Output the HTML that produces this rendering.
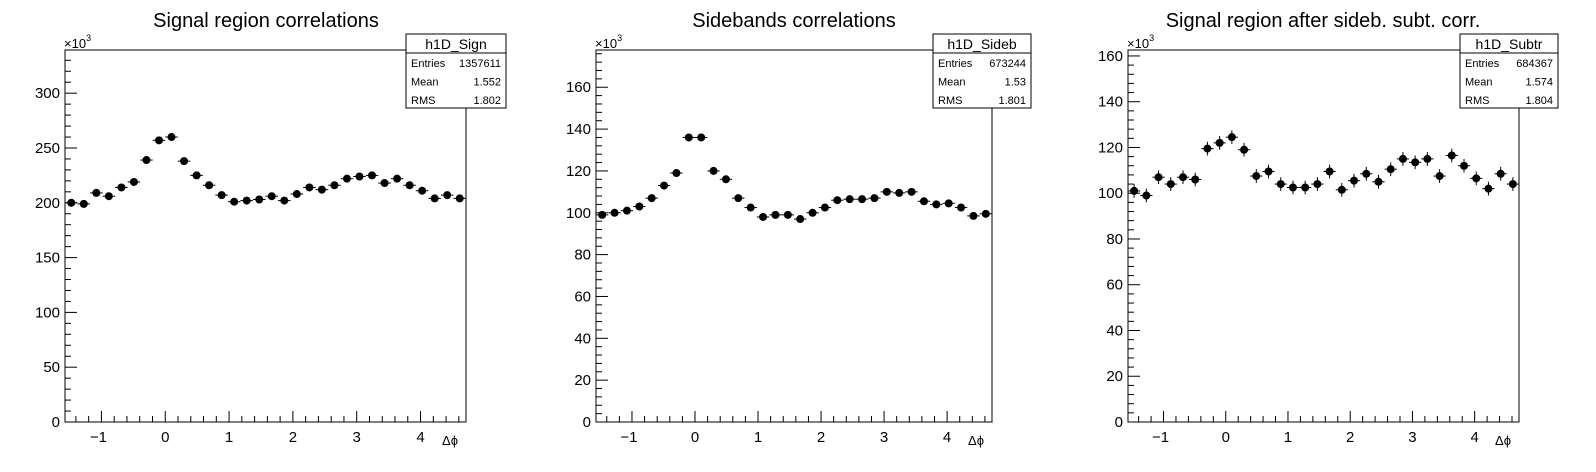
<!DOCTYPE html>
<html><head><meta charset="utf-8"><style>
html,body{margin:0;padding:0;background:#fff;}
svg{display:block;font-family:"Liberation Sans",Arial,sans-serif;}
</style></head><body>
<svg id="c" width="1596" height="472" xmlns="http://www.w3.org/2000/svg"></svg>
<script>
const binCenters = (function(){const a=[];for(let i=0;i<32;i++)a.push(-Math.PI/2+(i+0.5)*(2*Math.PI/32));return a;})();
const signValues = [200,199,209,206,214,219,239,257,260,238,225,216,207,201,202,203,206,202,208,214,212,216,222,224,225,218,222,216,211,204,207,204];
const sidebValues = [99,100,101,103,107,113,119,136,136,120,116,107,102.5,98,99,99,97,100,102.5,106,106.5,106.5,107,110,109.5,110,105.5,104,104.5,102.5,98.5,99.5];
const subtrValues = [101,99,107,104,107,106,119.5,122,124.5,119,107.5,109.5,104,102.5,102.5,104,109.5,101.5,105.5,108.5,105,110.5,115,113.5,115,107.5,116.5,112,106.5,102,108.5,104];
const subtrErrors = [3,3,3,3,3,3,3,3,3,3,3,3,3,3,3,3,3,3,3,3,3,3,3,3,3,3,3,3,3,3,3,3];
const xTicks = [-1,0,1,2,3,4];
const signYTicks = [0,50,100,150,200,250,300];
const sidebYTicks = [0,20,40,60,80,100,120,140,160];
const subtrYTicks = [0,20,40,60,80,100,120,140,160];

const panels = [
 {name:'signal',title:'Signal region correlations',tx:266,L:65,R:466,ymax:339.4,vals:signValues,err:null,yt:signYTicks,minor:10,hname:'h1D_Sign',stats:['1357611','1.552','1.802'],bx:406,bw:100},
 {name:'sidebands',title:'Sidebands correlations',tx:794,L:596,R:992,ymax:177.8,vals:sidebValues,err:null,yt:sidebYTicks,minor:4,hname:'h1D_Sideb',stats:['673244','1.53','1.801'],bx:933,bw:98},
 {name:'subtracted',title:'Signal region after sideb. subt. corr.',tx:1323,L:1128,R:1519,ymax:162.6,vals:subtrValues,err:subtrErrors,yt:subtrYTicks,minor:4,hname:'h1D_Subtr',stats:['684367','1.574','1.804'],bx:1460,bw:98}
];
const svg=document.getElementById('c');
const NS='http://www.w3.org/2000/svg';
function mk(tag,attrs,parent,text){const e=document.createElementNS(NS,tag);for(const k in attrs)e.setAttribute(k,attrs[k]);if(text!==undefined)e.textContent=text;(parent||svg).appendChild(e);return e;}
const T=50,B=422,XMIN=-Math.PI/2,XMAX=3*Math.PI/2;
panels.forEach(p=>{
 const g=mk('g',{},svg);
 
 
 const xs=v=>p.L+(v-XMIN)/(XMAX-XMIN)*(p.R-p.L);
 const ys=v=>B-v/p.ymax*(B-T);
 const t=mk('text',{x:p.tx,y:27,'font-size':20,'text-anchor':'middle'},g,p.title);
 
 
 const fr=mk('rect',{x:p.L,y:T,width:p.R-p.L,height:B-T,fill:'none',stroke:'#000','stroke-width':1},g);
 
 
 const ya=mk('g',{},g);
 
 
 const step=p.yt[1]-p.yt[0];
 for(let v=0;v<=p.ymax+1e-9;v+=p.minor){
  const major=Math.abs(v/step-Math.round(v/step))<1e-6;
  mk('line',{x1:p.L,x2:p.L+(major?12:6),y1:ys(v),y2:ys(v),stroke:'#000','stroke-width':1},ya);
 }
 p.yt.forEach(v=>{const tl=mk('text',{x:p.L-5,y:ys(v)+5,'font-size':15,'text-anchor':'end'},ya,String(v));
  
  });
 const ex=mk('text',{x:p.L-1,y:48,'font-size':13},g,'×10');
 
 
 mk('tspan',{dy:-7,'font-size':9},ex,'3');
 const xa=mk('g',{},g);
 
 
 for(let k=-8;k<=24;k++){const v=k*0.2;if(v<XMIN||v>XMAX)continue;
  const major=k%5===0;
  mk('line',{x1:xs(v),x2:xs(v),y1:B,y2:B-(major?11:6),stroke:'#000','stroke-width':1},xa);}
 xTicks.forEach(v=>{const tl=mk('text',{x:xs(v)+(v<0?-3:0),y:B+20,'font-size':15,'text-anchor':'middle'},xa,v<0?'\u2212'+(-v):String(v));
  
  });
 const xl=mk('text',{x:p.R-8,y:445,'font-size':13,'text-anchor':'end'},g,'Δϕ');
 
 
 const hw=(XMAX-XMIN)/64;
 const dg=mk('g',{},g);
 
 
 p.vals.forEach((v,i)=>{
  const c=binCenters[i],cx=xs(c),cy=ys(v);
  const pt=mk('g',{},dg);
  
  
  mk('line',{x1:xs(c-hw),x2:xs(c+hw),y1:cy,y2:cy,stroke:'#000','stroke-width':1},pt);
  if(p.err){mk('line',{x1:cx,x2:cx,y1:ys(v+p.err[i]),y2:ys(v-p.err[i]),stroke:'#000','stroke-width':1},pt);}
  mk('circle',{cx:cx,cy:cy,r:4,fill:'#000'},pt);
 });
 const sb=mk('g',{},g);
 
 
 mk('rect',{x:p.bx,y:34,width:p.bw,height:74,fill:'#fff',stroke:'#000','stroke-width':1},sb);
 mk('line',{x1:p.bx,x2:p.bx+p.bw,y1:53,y2:53,stroke:'#000','stroke-width':1},sb);
 mk('text',{x:p.bx+p.bw/2,y:49,'font-size':14,'text-anchor':'middle'},sb,p.hname);
 ['Entries','Mean','RMS'].forEach((lab,j)=>{
  mk('text',{x:p.bx+5,y:67+j*18.5,'font-size':11},sb,lab);
  mk('text',{x:p.bx+p.bw-5,y:67+j*18.5,'font-size':11,'text-anchor':'end'},sb,p.stats[j]);
 });
});
</script>
</body></html>
